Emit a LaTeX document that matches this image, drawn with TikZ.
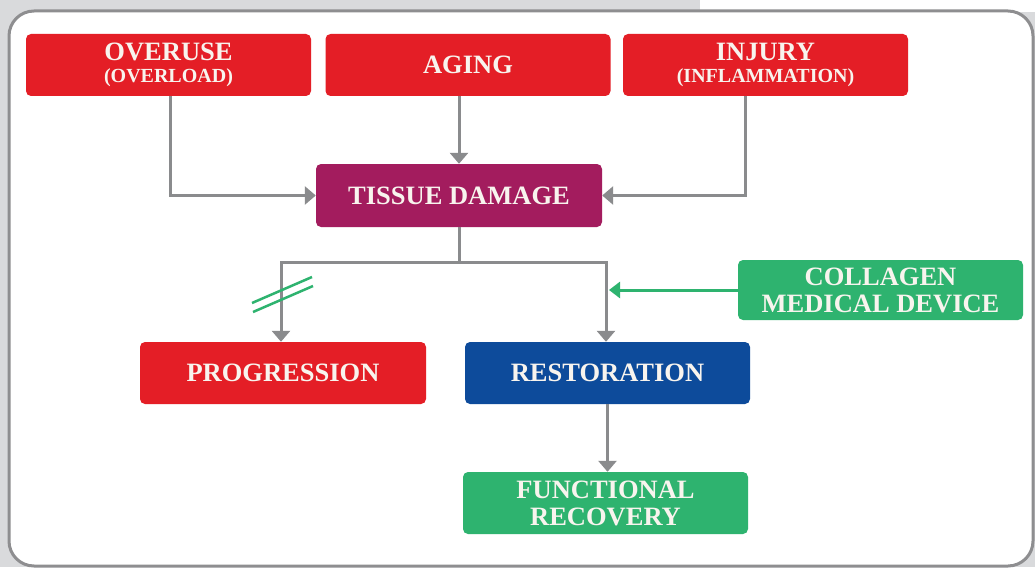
\documentclass[tikz,border=0pt]{standalone}
\usepackage{fontspec}
\setmainfont{Liberation Serif}
\usetikzlibrary{arrows.meta}
\definecolor{bggray}{HTML}{D9DADC}
\definecolor{panelline}{HTML}{8E8E90}
\definecolor{connline}{HTML}{8A8B8D}
\definecolor{boxred}{HTML}{E41E26}
\definecolor{boxmag}{HTML}{A31C5E}
\definecolor{boxblue}{HTML}{0D4B9B}
\definecolor{boxgreen}{HTML}{2EB36F}
\definecolor{txtwhite}{HTML}{F8F4EE}
\begin{document}
\begin{tikzpicture}[x=1pt,y=-1pt,
  box/.style={rounded corners=5pt, minimum width=285pt, minimum height=62pt, inner sep=0pt,
    text=txtwhite, align=center, font=\fontsize{26.5}{27}\selectfont\bfseries},
  conn/.style={draw=connline, line width=3pt, -{Triangle[width=18pt,length=11pt]}},
  plain/.style={draw=connline, line width=3pt},
  greenarrow/.style={draw=boxgreen, line width=3pt, -{Triangle[width=16pt,length=11pt]}},
  slash/.style={draw=boxgreen, line width=2.5pt}]
\useasboundingbox (0,0) rectangle (1035,567);
\fill[bggray] (0,0) rectangle (1035,567);
\fill[white] (700,0) rectangle (1035,12);
\draw[panelline, line width=3pt, fill=white, rounded corners=25pt] (9,11) rectangle (1033,566);

\node[box, fill=boxred] (overuse) at (168.5,65) {OVERUSE\\[-5pt]{\fontsize{20}{20}\selectfont (OVERLOAD)}};
\node[box, fill=boxred] (aging) at (468,65) {AGING};
\node[box, fill=boxred] (injury) at (765.5,65) {INJURY\\[-5pt]{\fontsize{20}{20}\selectfont (INFLAMMATION)}};
\node[box, fill=boxmag, minimum width=286pt, minimum height=63pt] (tissue) at (459,195.5) {TISSUE DAMAGE};
\node[box, fill=boxred, minimum width=286pt] (progression) at (283,373) {PROGRESSION};
\node[box, fill=boxblue] (restoration) at (607.5,373) {RESTORATION};
\node[box, fill=boxgreen, minimum height=60pt] (collagen) at (880.5,290) {COLLAGEN\\MEDICAL DEVICE};
\node[box, fill=boxgreen] (functional) at (605.5,503) {FUNCTIONAL\\RECOVERY};

\draw[conn] ([xshift=1.5pt]overuse.south) |- (tissue.west);
\draw[conn] (tissue.north |- aging.south) -- (tissue.north);
\draw[conn] ([xshift=-20.5pt]injury.south) |- (tissue.east);

\coordinate (split) at (459,262);
\draw[plain] (tissue.south) -- (split);
\draw[conn] (split) -| ([xshift=-2pt]progression.north);
\draw[conn] (split) -| ([xshift=-1.5pt]restoration.north);
\draw[conn] (restoration.south) -- (restoration.south |- functional.north);

\coordinate (gtip) at (609,290);
\draw[greenarrow] (collagen.west) -- (gtip);

\coordinate (s1a) at (252,303);
\coordinate (s1b) at (312,277);
\coordinate (s2a) at (253,312);
\coordinate (s2b) at (313,286);
\draw[slash] (s1a) -- (s1b);
\draw[slash] (s2a) -- (s2b);
\end{tikzpicture}
\end{document}
